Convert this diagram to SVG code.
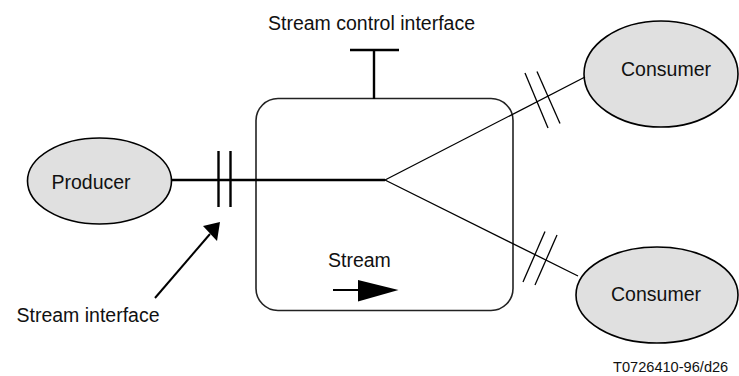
<svg xmlns="http://www.w3.org/2000/svg" width="739" height="376" viewBox="0 0 739 376">
<style>
.node{fill:#e0e0e0;stroke:#000;stroke-width:1.6}
.t{font-family:"Liberation Sans",Arial,sans-serif;font-size:19.5px;fill:#111}
.s{font-family:"Liberation Sans",Arial,sans-serif;font-size:14.6px;fill:#111}
.thin{stroke:#000;stroke-width:1.3;fill:none}
.thick{stroke:#000;stroke-width:2.4;fill:none}
</style>
<rect width="739" height="376" fill="#fff"/>
<g id="stream-box">
<rect x="256" y="98.5" width="257" height="212" rx="22" ry="22" fill="none" stroke="#222" stroke-width="1.6"/>
</g>
<g id="producer">
<ellipse class="node" cx="99.5" cy="181" rx="72" ry="43"/>
<text class="t" x="91" y="189" text-anchor="middle">Producer</text>
</g>
<g id="consumer1">
<ellipse class="node" cx="661" cy="74" rx="77" ry="53"/>
<text class="t" x="666" y="76" text-anchor="middle">Consumer</text>
</g>
<g id="consumer2">
<ellipse class="node" cx="657" cy="295" rx="81" ry="48"/>
<text class="t" x="656" y="301" text-anchor="middle">Consumer</text>
</g>
<g id="connectors">
<line class="thick" x1="172" y1="180" x2="385" y2="180"/>
<line class="thick" x1="218.5" y1="151" x2="218.5" y2="207"/>
<line class="thick" x1="230.5" y1="151" x2="230.5" y2="207"/>
<line class="thin" x1="385" y1="180" x2="585" y2="77"/>
<line class="thin" x1="385" y1="180" x2="578" y2="276"/>
<line class="thin" x1="525" y1="73" x2="548" y2="128"/>
<line class="thin" x1="537" y1="71.5" x2="560" y2="123.5"/>
<line class="thin" x1="545" y1="231.5" x2="523" y2="282"/>
<line class="thin" x1="557" y1="235" x2="535" y2="285"/>
<line class="thick" x1="374" y1="50" x2="374" y2="99"/>
<line class="thick" x1="350" y1="50" x2="399" y2="50"/>
<line stroke="#000" stroke-width="2" x1="155" y1="298" x2="210" y2="234"/>
<polygon points="220,222 203,226 217,241" fill="#000"/>
<line stroke="#000" stroke-width="2" x1="333" y1="290" x2="360" y2="290"/>
<polygon points="358,280 398.5,290 358,301.5" fill="#000"/>
</g>
<text class="t" x="268" y="30">Stream control interface</text>
<text class="t" x="328" y="267">Stream</text>
<text class="t" x="16.5" y="322">Stream interface</text>
<text class="s" x="613" y="372">T0726410-96/d26</text>
</svg>
